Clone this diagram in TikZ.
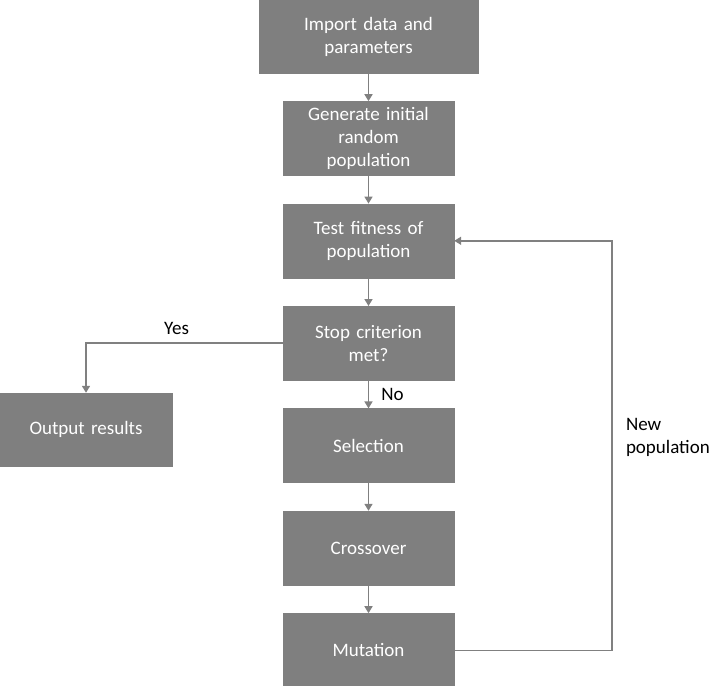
\documentclass[tikz,border=0pt]{standalone}
\usepackage{fontspec}
\setmainfont{Carlito}
\usepackage{tikz}
\usetikzlibrary{arrows.meta, positioning}
\definecolor{caja}{RGB}{127,127,127}
\definecolor{linea}{RGB}{128,128,128}
\tikzset{
  gabox/.style={rectangle, draw=caja, fill=caja, text=white, align=center,
                minimum width=171pt, minimum height=74pt, text width=165pt,
                inner sep=0pt, font=\fontsize{19}{23}\selectfont},
  flecha/.style={-{Triangle[length=7pt, width=8pt]}, line width=1.6pt, linea},
  etiqueta/.style={font=\fontsize{19}{23}\selectfont, text=black, inner sep=0pt}
}
\begin{document}
\begin{tikzpicture}[x=1pt, y=-1pt, node distance=28pt]
  \useasboundingbox (0,0) rectangle (709,685);
  \node[gabox, minimum width=219pt, minimum height=73pt] (imp) at (368.5,36.5)
    {Import data and\\parameters};
  \node[gabox, below=of imp] (gen) {Generate initial\\random\\population};
  \node[gabox, below=of gen] (fit) {Test fitness of\\population};
  \node[gabox, below=of fit] (stop) {Stop criterion\\met?};
  \node[gabox, below=of stop] (sel) {Selection};
  \node[gabox, below=of sel] (cross) {Crossover};
  \node[gabox, below=of cross] (mut) {Mutation};
  \node[gabox, minimum width=172pt, minimum height=73pt] (out)
    at (86,429.5) {Output results};
  \draw[flecha] (imp) -- (gen);
  \draw[flecha] (gen) -- (fit);
  \draw[flecha] (fit) -- (stop);
  \draw[flecha] (stop) -- node[etiqueta, right=12pt] {No} (sel);
  \draw[flecha] (sel) -- (cross);
  \draw[flecha] (cross) -- (mut);
  \draw[flecha] (stop.west) -| node[etiqueta, pos=0.27, above=8pt] {Yes} (out.north);
  \draw[flecha] (mut.east) -- ++(158,0) |- node[etiqueta, pos=0.26, right=13pt,
    align=left] {New\\population} (fit.east);
\end{tikzpicture}
\end{document}
